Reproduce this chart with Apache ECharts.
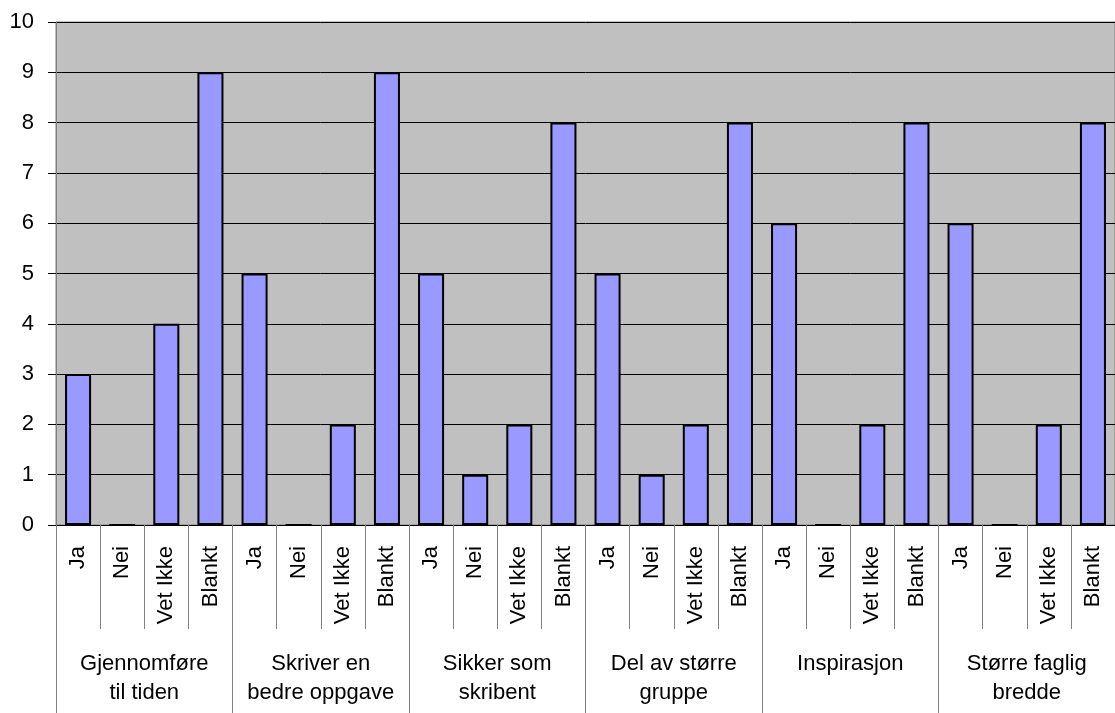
<!DOCTYPE html>
<html>
<head>
<meta charset="utf-8">
<script src="https://cdn.jsdelivr.net/npm/echarts@6/dist/echarts.min.js"></script>
<style>
  html, body { margin: 0; padding: 0; background: #ffffff; }
  #chart { width: 1115px; height: 713px; }
</style>
</head>
<body>
<div id="chart"></div>
<script>
// svar per spørsmål
var groups = [
  "Gjennomføre\ntil tiden",
  "Skriver en\nbedre oppgave",
  "Sikker som\nskribent",
  "Del av større\ngruppe",
  "Inspirasjon",
  "Større faglig\nbredde"
];
var answers = ["Ja", "Nei", "Vet Ikke", "Blankt"];
var values = [
  3, 0, 4, 9,
  5, 0, 2, 9,
  5, 1, 2, 8,
  5, 1, 2, 8,
  6, 0, 2, 8,
  6, 0, 2, 8
];
var yMin = 0, yMax = 10, yStep = 1;

var categories = [];
groups.forEach(function () {
  answers.forEach(function (a) { categories.push(a); });
});

var font = "Liberation Sans, Arial, sans-serif";
var chart = echarts.init(document.getElementById("chart"));
chart.setOption({
  animation: false,
  grid: {
    left: 56,
    right: -3,
    top: 22,
    bottom: 188,
    show: true,
    backgroundColor: "#C0C0C0",
    borderColor: "#808080",
    borderWidth: 1
  },
  xAxis: [
    {
      type: "category",
      data: categories,
      position: "bottom",
      axisLine: { show: true, lineStyle: { color: "#000000", width: 1 } },
      axisTick: { show: true, length: 104, lineStyle: { color: "#808080", width: 1 } },
      axisLabel: {
        interval: 0,
        rotate: 90,
        margin: 21,
        color: "#000000",
        fontFamily: font,
        fontSize: 22
      },
      splitLine: { show: false }
    },
    {
      type: "category",
      data: groups,
      position: "bottom",
      axisLine: { show: false },
      axisTick: { show: true, length: 188, lineStyle: { color: "#808080", width: 1 } },
      axisLabel: {
        interval: 0,
        margin: 124,
        color: "#000000",
        fontFamily: font,
        fontSize: 22,
        lineHeight: 29,
        verticalAlign: "top"
      },
      splitLine: { show: false }
    }
  ],
  yAxis: {
    type: "value",
    min: yMin,
    max: yMax,
    interval: yStep,
    axisLine: { show: true, lineStyle: { color: "#808080", width: 1 } },
    axisTick: { show: true, length: 8, lineStyle: { color: "#000000" } },
    axisLabel: {
      margin: 22,
      color: "#000000",
      fontFamily: font,
      fontSize: 22
    },
    splitLine: { show: true, lineStyle: { color: "#000000", width: 1 } }
  },
  series: [
    {
      type: "bar",
      xAxisIndex: 0,
      data: values,
      barCategoryGap: "41%",
      itemStyle: {
        color: "#9999FF",
        borderColor: "#000000",
        borderWidth: 2
      }
    }
  ]
});
</script>
</body>
</html>
